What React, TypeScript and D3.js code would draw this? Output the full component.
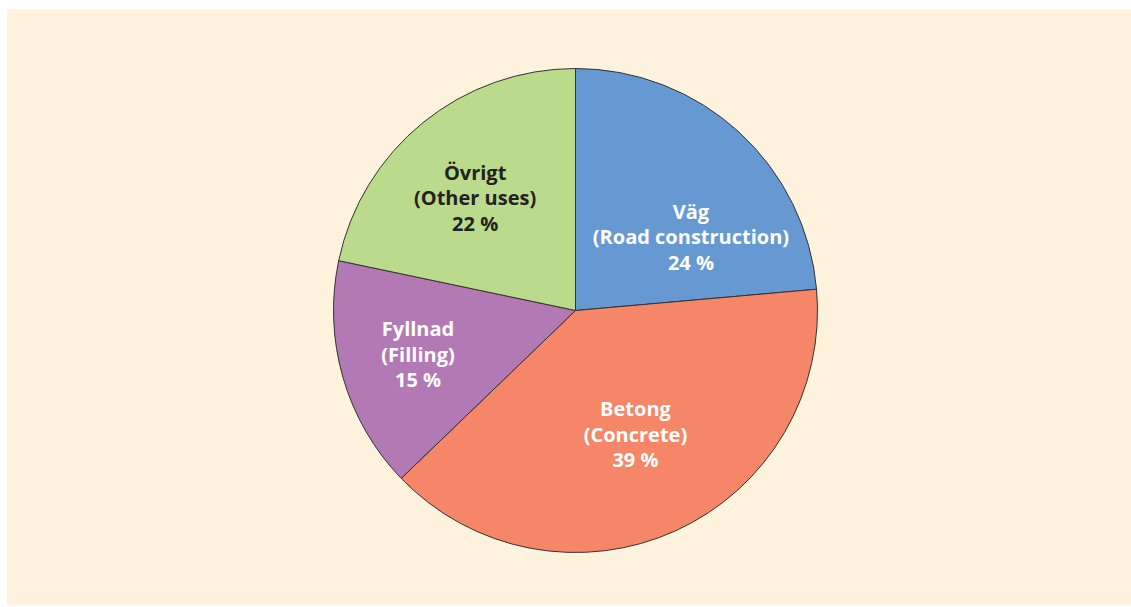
import React from "react";
import * as d3 from "d3";

const categories = ["Väg", "Betong", "Fyllnad", "Övrigt"];
const subtitles = ["(Road construction)", "(Concrete)", "(Filling)", "(Other uses)"];
const values = [23.6, 39.2, 15.5, 21.7];
const percentLabels = ["24 %", "39 %", "15 %", "22 %"];
const colors = ["#6699d1", "#f58667", "#b279b5", "#badb8b"];
const textColors = ["#ffffff", "#ffffff", "#ffffff", "#222222"];
const labelOffsets: [number, number][] = [[17.4, 40.6], [-0.2, -1.1], [-17.9, 11], [-8.9, 7.7]];

export default function App() {
  const W = 1131, H = 607;
  const cx = 575.5, cy = 310.5, r = 242;
  const pie = d3.pie<number>().sort(null).startAngle(0).endAngle(2 * Math.PI);
  const arcs = pie(values);
  const arc = d3.arc<d3.PieArcDatum<number>>().innerRadius(0).outerRadius(r);
  const labelArc = d3.arc<d3.PieArcDatum<number>>().innerRadius(r * 0.6).outerRadius(r * 0.6);
  const lh = 25.5;
  return (
    <svg width={W} height={H} style={{ position: "absolute", left: 0, top: 0 }}>
      <rect x={7} y={9} width={W - 7} height={H - 11} fill="#fff3dd" />
      <g transform={`translate(${cx},${cy})`}>
        {arcs.map((a, i) => (
          <path key={i} d={arc(a) || ""} fill={colors[i]} stroke="#333" strokeWidth={1} />
        ))}
        {arcs.map((a, i) => {
          const [x, y] = labelArc.centroid(a);
          const lx = x + labelOffsets[i][0], ly = y + labelOffsets[i][1];
          return (
            <text key={i} x={lx} y={ly} textAnchor="middle" fill={textColors[i]}
              fontFamily="'Open Sans', sans-serif" fontWeight="bold" fontSize={20}>
              <tspan x={lx} dy={-lh}>{categories[i]}</tspan>
              <tspan x={lx} dy={lh}>{subtitles[i]}</tspan>
              <tspan x={lx} dy={lh}>{percentLabels[i]}</tspan>
            </text>
          );
        })}
      </g>
    </svg>
  );
}
